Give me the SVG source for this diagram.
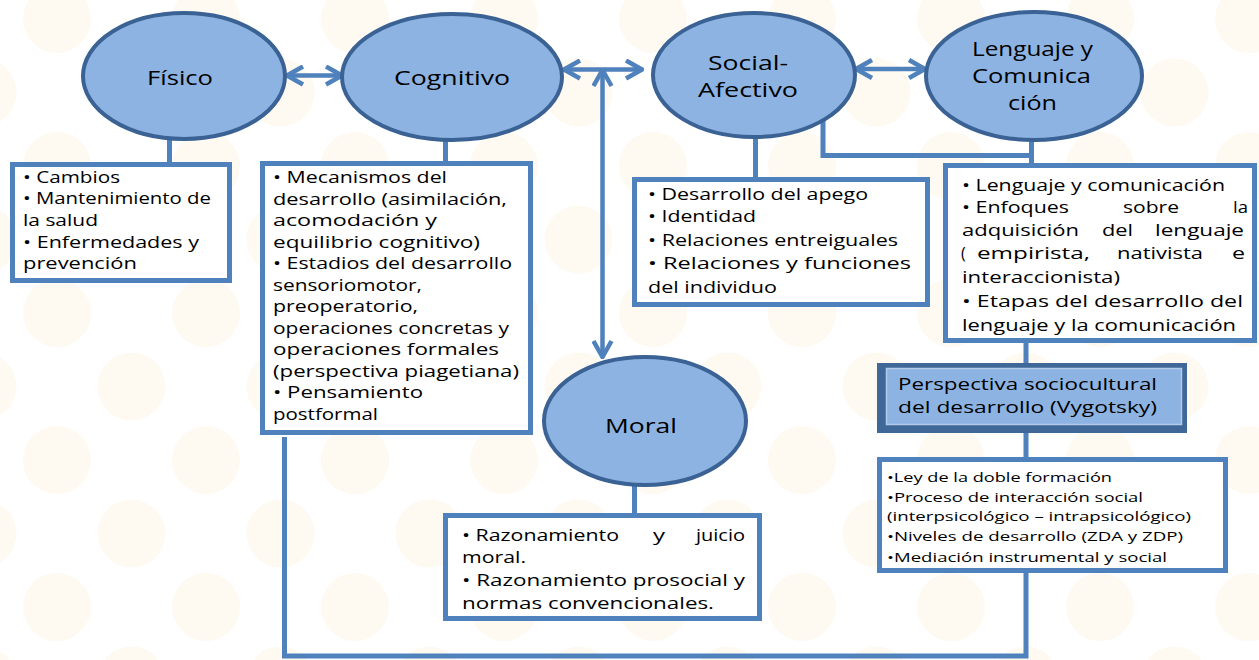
<svg xmlns="http://www.w3.org/2000/svg" width="1259" height="660" viewBox="0 0 1259 660">
<defs>
<pattern id="dots" x="20" y="-18" width="149" height="147" patternUnits="userSpaceOnUse">
<circle cx="37" cy="37" r="34" fill="#fef9f1"/>
<circle cx="111.5" cy="110.5" r="34" fill="#fef9f1"/>
</pattern>
<marker id="chev" viewBox="0 0 20 22" refX="18" refY="11" markerWidth="20" markerHeight="22" markerUnits="userSpaceOnUse" orient="auto-start-reverse">
<path d="M2,2 L18,11 L2,20" fill="none" stroke="#4f81bd" stroke-width="4.5"/>
</marker>
</defs>
<style>
.ell{fill:#8db3e2;stroke:#3a6294;stroke-width:4}
.box{fill:#ffffff;stroke:#4f81bd;stroke-width:5}
.ln{fill:none;stroke:#4f81bd;stroke-width:5}
.arr{fill:none;stroke:#4f81bd;stroke-width:4.5;marker-start:url(#chev);marker-end:url(#chev)}
text{font-family:"Open Sans","Liberation Sans",sans-serif;fill:#000}
.t{font-size:16px}
.s{font-size:13px}
.e{font-size:20px}
.h{font-size:17px}
</style>
<rect x="0" y="0" width="1259" height="660" fill="#ffffff"/>
<rect x="0" y="0" width="1259" height="660" fill="url(#dots)"/>

<g id="connectors">
<line class="ln" x1="169.5" y1="136" x2="169.5" y2="164"/>
<line class="ln" x1="445.5" y1="136" x2="445.5" y2="164"/>
<line class="ln" x1="755.5" y1="134" x2="755.5" y2="180"/>
<line class="ln" x1="1031.5" y1="138" x2="1031.5" y2="166"/>
<polyline class="ln" points="823,117 823,155.5 1031.5,155.5"/>
<line class="ln" x1="1026" y1="340" x2="1026" y2="366"/>
<line class="ln" x1="1026" y1="430" x2="1026" y2="460"/>
<line class="ln" x1="634.5" y1="484" x2="634.5" y2="516"/>
<polyline class="ln" points="284.5,437 284.5,656 1026,656 1026,570"/>
<line class="arr" x1="287" y1="75.5" x2="342" y2="75.5"/>
<line class="arr" x1="564" y1="69.5" x2="642" y2="69.5"/>
<line class="arr" x1="602.5" y1="70" x2="602.5" y2="357"/>
<line class="arr" x1="856" y1="69" x2="925" y2="69"/>
</g>

<g id="fisico">
<ellipse class="ell" cx="184" cy="76" rx="101" ry="63"/>
<text class="e" x="147" y="85" textLength="66" lengthAdjust="spacingAndGlyphs">Físico</text>
</g>
<g id="cognitivo">
<ellipse class="ell" cx="452" cy="77" rx="110" ry="63"/>
<text class="e" x="394" y="85" textLength="116" lengthAdjust="spacingAndGlyphs">Cognitivo</text>
</g>
<g id="social">
<ellipse class="ell" cx="754" cy="75" rx="101" ry="62"/>
<text class="e" x="708" y="70" textLength="80" lengthAdjust="spacingAndGlyphs">Social-</text>
<text class="e" x="698" y="97" textLength="100" lengthAdjust="spacingAndGlyphs">Afectivo</text>
</g>
<g id="lenguaje">
<ellipse class="ell" cx="1034" cy="76" rx="108" ry="64"/>
<text class="e" x="972" y="56" textLength="121" lengthAdjust="spacingAndGlyphs">Lenguaje y</text>
<text class="e" x="972" y="83" textLength="119" lengthAdjust="spacingAndGlyphs">Comunica</text>
<text class="e" x="1008" y="110" textLength="49" lengthAdjust="spacingAndGlyphs">ción</text>
</g>
<g id="moral">
<ellipse class="ell" cx="645" cy="421" rx="101" ry="64"/>
<text class="e" x="605" y="433" textLength="72" lengthAdjust="spacingAndGlyphs">Moral</text>
</g>

<g id="fisico-box">
<rect class="box" x="12.5" y="164.5" width="217" height="116"/>
<text class="t" x="23" y="182.5" textLength="97" lengthAdjust="spacingAndGlyphs">• Cambios</text>
<text class="t" x="23" y="204" textLength="188" lengthAdjust="spacingAndGlyphs">• Mantenimiento de</text>
<text class="t" x="23" y="226" textLength="75" lengthAdjust="spacingAndGlyphs">la salud</text>
<text class="t" x="23" y="247.5" textLength="176" lengthAdjust="spacingAndGlyphs">• Enfermedades y</text>
<text class="t" x="23" y="269" textLength="114" lengthAdjust="spacingAndGlyphs">prevención</text>
</g>

<g id="cognitivo-box">
<rect class="box" x="262.5" y="163.5" width="268" height="269"/>
<text class="t" x="273" y="183" textLength="174" lengthAdjust="spacingAndGlyphs">• Mecanismos del</text>
<text class="t" x="273" y="204.5" textLength="234" lengthAdjust="spacingAndGlyphs">desarrollo (asimilación,</text>
<text class="t" x="273" y="226" textLength="164" lengthAdjust="spacingAndGlyphs">acomodación y</text>
<text class="t" x="273" y="247.5" textLength="207" lengthAdjust="spacingAndGlyphs">equilibrio cognitivo)</text>
<text class="t" x="273" y="269" textLength="239" lengthAdjust="spacingAndGlyphs">• Estadios del desarrollo</text>
<text class="t" x="273" y="290.5" textLength="149" lengthAdjust="spacingAndGlyphs">sensoriomotor,</text>
<text class="t" x="273" y="312" textLength="145" lengthAdjust="spacingAndGlyphs">preoperatorio,</text>
<text class="t" x="273" y="333.5" textLength="236" lengthAdjust="spacingAndGlyphs">operaciones concretas y</text>
<text class="t" x="273" y="355" textLength="226" lengthAdjust="spacingAndGlyphs">operaciones formales</text>
<text class="t" x="273" y="376.5" textLength="246" lengthAdjust="spacingAndGlyphs">(perspectiva piagetiana)</text>
<text class="t" x="273" y="398" textLength="150" lengthAdjust="spacingAndGlyphs">• Pensamiento</text>
<text class="t" x="273" y="419.5" textLength="105" lengthAdjust="spacingAndGlyphs">postformal</text>
</g>

<g id="social-box">
<rect class="box" x="634.5" y="179.5" width="293" height="125"/>
<text class="t" x="648" y="200" textLength="220" lengthAdjust="spacingAndGlyphs">• Desarrollo del apego</text>
<text class="t" x="648" y="222" textLength="108" lengthAdjust="spacingAndGlyphs">• Identidad</text>
<text class="t" x="648" y="246" textLength="250" lengthAdjust="spacingAndGlyphs">• Relaciones entreiguales</text>
<text class="t" x="648" y="269" textLength="263" lengthAdjust="spacingAndGlyphs">• Relaciones y funciones</text>
<text class="t" x="648" y="293" textLength="129" lengthAdjust="spacingAndGlyphs">del individuo</text>
</g>

<g id="lenguaje-box">
<rect class="box" x="945.5" y="165.5" width="309" height="175"/>
<text class="t" x="962" y="191" textLength="263" lengthAdjust="spacingAndGlyphs">• Lenguaje y comunicación</text>
<text class="t" y="213"><tspan x="962" textLength="107" lengthAdjust="spacingAndGlyphs">• Enfoques</tspan><tspan x="1123" textLength="56" lengthAdjust="spacingAndGlyphs">sobre</tspan><tspan x="1233" textLength="15" lengthAdjust="spacingAndGlyphs">la</tspan></text>
<text class="t" y="236"><tspan x="962" textLength="117" lengthAdjust="spacingAndGlyphs">adquisición</tspan><tspan x="1102" textLength="31" lengthAdjust="spacingAndGlyphs">del</tspan><tspan x="1155" textLength="89" lengthAdjust="spacingAndGlyphs">lenguaje</tspan></text>
<text class="t" y="259"><tspan x="961">(</tspan><tspan x="977" textLength="113" lengthAdjust="spacingAndGlyphs">empirista,</tspan><tspan x="1117" textLength="86" lengthAdjust="spacingAndGlyphs">nativista</tspan><tspan x="1232" textLength="13" lengthAdjust="spacingAndGlyphs">e</tspan></text>
<text class="t" x="962" y="283" textLength="158" lengthAdjust="spacingAndGlyphs">interaccionista)</text>
<text class="t" x="962" y="307" textLength="281" lengthAdjust="spacingAndGlyphs">• Etapas del desarrollo del</text>
<text class="t" x="962" y="331" textLength="274" lengthAdjust="spacingAndGlyphs">lenguaje y la comunicación</text>
</g>

<g id="vygotsky">
<rect x="877" y="363" width="310" height="70" fill="#3f6898"/>
<rect x="886.5" y="368.5" width="295" height="56" fill="#8db3e2" stroke="#b3cbe9" stroke-width="1.5"/>
<text class="h" x="898" y="390" textLength="259" lengthAdjust="spacingAndGlyphs">Perspectiva sociocultural</text>
<text class="h" x="898" y="413" textLength="259" lengthAdjust="spacingAndGlyphs">del desarrollo (Vygotsky)</text>
</g>

<g id="vygotsky-box">
<rect class="box" x="879.5" y="459.5" width="346" height="111"/>
<text class="s" x="887" y="482" textLength="225" lengthAdjust="spacingAndGlyphs">•Ley de la doble formación</text>
<text class="s" x="887" y="502" textLength="256" lengthAdjust="spacingAndGlyphs">•Proceso de  interacción social</text>
<text class="s" x="887" y="521" textLength="304" lengthAdjust="spacingAndGlyphs">(interpsicológico  – intrapsicológico)</text>
<text class="s" x="887" y="541" textLength="296" lengthAdjust="spacingAndGlyphs">•Niveles de desarrollo (ZDA y ZDP)</text>
<text class="s" x="887" y="562" textLength="280" lengthAdjust="spacingAndGlyphs">•Mediación instrumental y social</text>
</g>

<g id="moral-box">
<rect class="box" x="445.5" y="515.5" width="314" height="103"/>
<text class="t" y="541"><tspan x="462" textLength="157" lengthAdjust="spacingAndGlyphs">• Razonamiento</tspan><tspan x="653" textLength="12" lengthAdjust="spacingAndGlyphs">y</tspan><tspan x="696" textLength="49" lengthAdjust="spacingAndGlyphs">juicio</tspan></text>
<text class="t" x="462" y="563" textLength="64" lengthAdjust="spacingAndGlyphs">moral.</text>
<text class="t" x="462" y="586" textLength="283" lengthAdjust="spacingAndGlyphs">• Razonamiento prosocial y</text>
<text class="t" x="462" y="609" textLength="252" lengthAdjust="spacingAndGlyphs">normas convencionales.</text>
</g>
</svg>
